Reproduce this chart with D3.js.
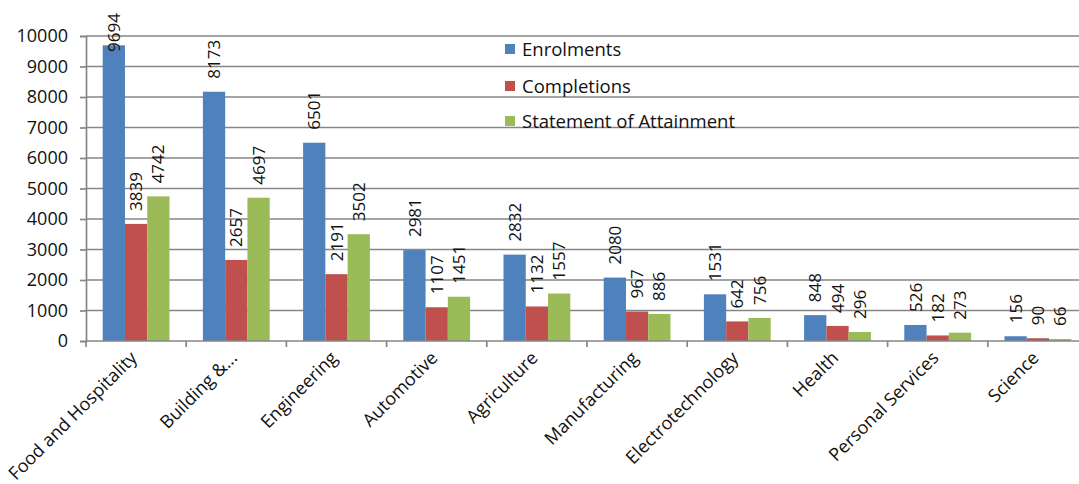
<!DOCTYPE html>
<html>
<head>
<meta charset="utf-8"/>
<title>Enrolments, completions and statements by industry</title>
<script src="https://d3js.org/d3.v7.min.js"></script>
<style>
	body { margin: 0; background: #fff; }
	text { font-family: "Open Sans", "Liberation Sans", sans-serif; fill: #111; }
	.grid line { stroke: #868686; stroke-width: 1.7px; }
</style>
</head>
<body>
<svg width="1079" height="484"></svg>
<script>
// data
var categories = ["Food and Hospitality", "Building &...", "Engineering", "Automotive", "Agriculture",
	"Manufacturing", "Electrotechnology", "Health", "Personal Services", "Science"];
var seriesNames = ["Enrolments", "Completions", "Statement of Attainment"];
var enrolments  = [9694, 8173, 6501, 2981, 2832, 2080, 1531, 848, 526, 156];
var completions = [3839, 2657, 2191, 1107, 1132, 967, 642, 494, 182, 90];
var statements  = [4742, 4697, 3502, 1451, 1557, 886, 756, 296, 273, 66];
var yTicks = [0, 1000, 2000, 3000, 4000, 5000, 6000, 7000, 8000, 9000, 10000];
var colors = ["#4f81bd", "#c0504d", "#9bbb59"];

var seriesValues = [enrolments, completions, statements];
var rows = categories.map(function(c, i) {
	return { cat: c, vals: seriesNames.map(function(s, j) { return { name: s, value: seriesValues[j][i] }; }) };
});

var svg = d3.select("svg");
var plotLeft = 86, plotRight = 1088, plotTop = 36, plotBottom = 341;

var x0 = d3.scaleBand().domain(categories).range([plotLeft, plotRight]);
var x1 = d3.scaleBand().domain(seriesNames)
	.range([x0.bandwidth() / 6, x0.bandwidth() * 5 / 6]);
var y = d3.scaleLinear().domain([0, 10000]).range([plotBottom, plotTop]);
var color = d3.scaleOrdinal().domain(seriesNames).range(colors);

// horizontal grid lines
svg.append("g").attr("class", "grid")
	.selectAll("line").data(yTicks.slice(1)).enter().append("line")
		.attr("x1", plotLeft).attr("x2", 1079)
		.attr("y1", function(d) { return y(d); })
		.attr("y2", function(d) { return y(d); });

// y axis
var yAxis = svg.append("g").attr("transform", "translate(" + plotLeft + ",0)")
	.call(d3.axisLeft(y).tickValues(yTicks).tickSize(6).tickPadding(12).tickFormat(d3.format("d")));
yAxis.select(".domain").attr("stroke", "#868686").attr("stroke-width", 1.7);
yAxis.selectAll(".tick line").attr("stroke", "#868686").attr("stroke-width", 1.7);
yAxis.selectAll(".tick text").style("font-size", "18px").attr("fill", "#222")
	.style("font-family", "'Open Sans', sans-serif");

// bars
var groups = svg.append("g").selectAll("g").data(rows).enter().append("g")
	.attr("transform", function(d) { return "translate(" + x0(d.cat) + ",0)"; });

groups.selectAll("rect").data(function(d) { return d.vals; }).enter().append("rect")
	.attr("x", function(d) { return x1(d.name); })
	.attr("width", x1.bandwidth())
	.attr("y", function(d) { return y(d.value); })
	.attr("height", function(d) { return plotBottom - y(d.value); })
	.attr("fill", function(d) { return color(d.name); });

// value labels, rotated, just above each bar
groups.selectAll("text.val").data(function(d) { return d.vals; }).enter().append("text")
	.attr("class", "val")
	.style("font-size", "17px")
	.attr("text-anchor", "start")
	.attr("dy", "0.36em")
	.attr("transform", function(d) {
		var cx = x1(d.name) + x1.bandwidth() / 2;
		var base = Math.max(y(d.value) - 13, 52);
		return "translate(" + cx + "," + base + ") rotate(-90)";
	})
	.text(function(d) { return d.value; });

// x axis line and ticks at category boundaries
svg.append("line").attr("x1", plotLeft).attr("x2", 1079).attr("y1", plotBottom).attr("y2", plotBottom)
	.attr("stroke", "#868686").attr("stroke-width", 1.7);
svg.append("g").selectAll("line").data(categories).enter().append("line")
	.attr("x1", function(d) { return x0(d); }).attr("x2", function(d) { return x0(d); })
	.attr("y1", plotBottom).attr("y2", plotBottom + 6)
	.attr("stroke", "#868686").attr("stroke-width", 1.7);

// category labels at -45 degrees
svg.append("g").selectAll("text").data(categories).enter().append("text")
	.style("font-size", "18px")
	.attr("text-anchor", "end")
	.attr("transform", function(d) {
		var cx = x0(d) + x0.bandwidth() / 2 + 2;
		return "translate(" + cx + "," + (plotBottom + 18) + ") rotate(-45)";
	})
	.text(function(d) { return d; });

// legend
var legend = svg.append("g").selectAll("g").data(seriesNames).enter().append("g")
	.attr("transform", function(d, i) { return "translate(505," + [49, 86, 121][i] + ")"; });
legend.append("rect").attr("x", 0).attr("y", -5).attr("width", 10).attr("height", 10)
	.attr("fill", function(d) { return color(d); });
legend.append("text").attr("x", 17).attr("dy", "0.36em").style("font-size", "18.5px")
	.text(function(d) { return d; });
</script>
</body>
</html>
